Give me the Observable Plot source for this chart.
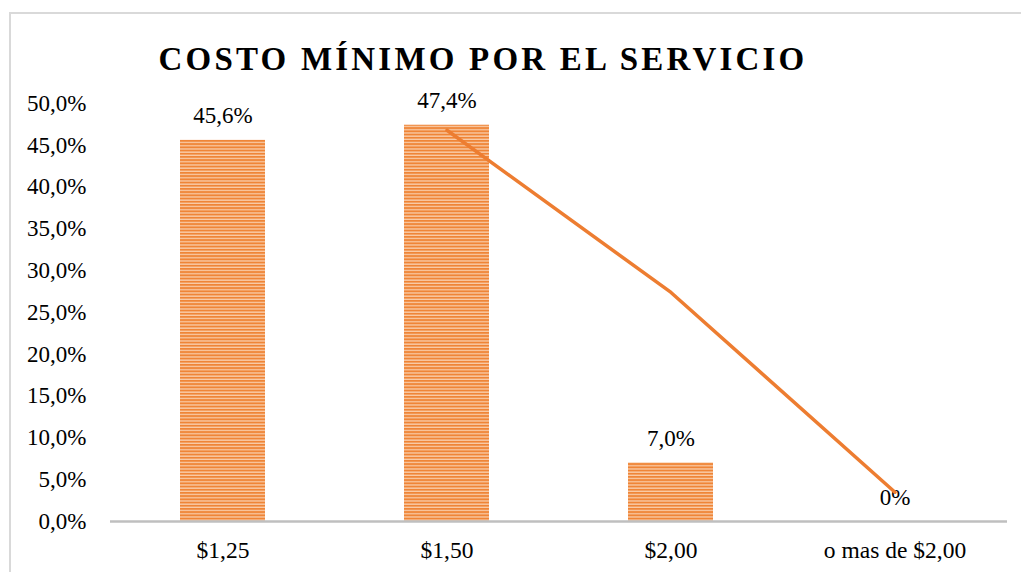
<!DOCTYPE html>
<html>
<head>
<meta charset="utf-8">
<script src="https://cdn.jsdelivr.net/npm/d3@7"></script>
<script src="https://cdn.jsdelivr.net/npm/@observablehq/plot@0.6"></script>
<style>
  html, body { margin: 0; padding: 0; background: #fff; overflow: hidden; }
  #wrap { position: relative; width: 1021px; height: 572px; padding-top: 60px; box-sizing: border-box; }
  #frame { position: absolute; left: 9px; top: 12px; width: 1100px; height: 700px; border: 2px solid #d9d9d9; box-sizing: border-box; pointer-events: none; }
  #title { position: absolute; z-index: 2; left: 0; top: 43px; width: 966px; text-align: center; font-family: "Liberation Serif", "Times New Roman", serif; font-weight: bold; font-size: 33px; line-height: 33px; letter-spacing: 3.2px; color: #000; white-space: nowrap; }
  svg { display: block; }
</style>
</head>
<body>
<div id="wrap">
  <div id="frame"></div>
  <div id="title">COSTO MÍNIMO POR EL SERVICIO</div>
  <div id="chart"></div>
</div>
<script>
const categories = ["$1,25", "$1,50", "$2,00", "o mas de $2,00"];
const values = [45.6, 47.4, 7.0, 0];
const valueLabels = ["45,6%", "47,4%", "7,0%", "0%"];
const trendCategories = ["$1,50", "$2,00", "o mas de $2,00"];
const trendValues = [46.8, 27.4, 3.5];
const yTicks = [0, 5, 10, 15, 20, 25, 30, 35, 40, 45, 50];

const bars = categories.map((c, i) => ({cat: c, value: values[i], label: valueLabels[i]}));
const trend = trendCategories.map((c, i) => ({cat: c, value: trendValues[i]}));

const fmt = d => d.toFixed(1).replace(".", ",") + "%";

const chart = Plot.plot({
  width: 1021,
  height: 512,
  marginTop: 43,
  marginBottom: 51,
  marginLeft: 110,
  marginRight: 14,
  style: {fontFamily: "'Liberation Serif', 'Times New Roman', serif", fontSize: "23px", color: "#000", background: "transparent"},
  x: {domain: categories, paddingInner: 0.62, paddingOuter: 0.31, label: null},
  y: {domain: [0, 50], label: null},
  marks: [
    Plot.axisY({ticks: yTicks, tickSize: 0, tickPadding: 24, tickFormat: fmt, fontSize: 23, label: null}),
    Plot.axisX({tickSize: 0, tickPadding: 20, fontSize: 23.5, label: null}),
    Plot.barY(bars, {x: "cat", y: "value", fill: "url(#stripes)"}),
    Plot.ruleY([0], {stroke: "#BFBFBF", strokeWidth: 2.5}),
    Plot.text(bars, {x: "cat", y: "value", text: "label", dy: -17, lineAnchor: "bottom", fontSize: 23, fill: "#000"}),
    Plot.line(trend, {x: "cat", y: "value", stroke: "#ED7D31", strokeWidth: 3.5})
  ]
});

// stripe pattern
const svgNS = "http://www.w3.org/2000/svg";
const defs = document.createElementNS(svgNS, "defs");
defs.innerHTML = `<pattern id="stripes" patternUnits="userSpaceOnUse" width="8" height="3.2">
  <rect x="0" y="0" width="8" height="3.2" fill="#F9CDAA"></rect>
  <rect x="0" y="0" width="8" height="1.9" fill="#EF8537"></rect>
</pattern>`;
chart.insertBefore(defs, chart.firstChild);
document.getElementById("chart").appendChild(chart);
</script>
</body>
</html>
